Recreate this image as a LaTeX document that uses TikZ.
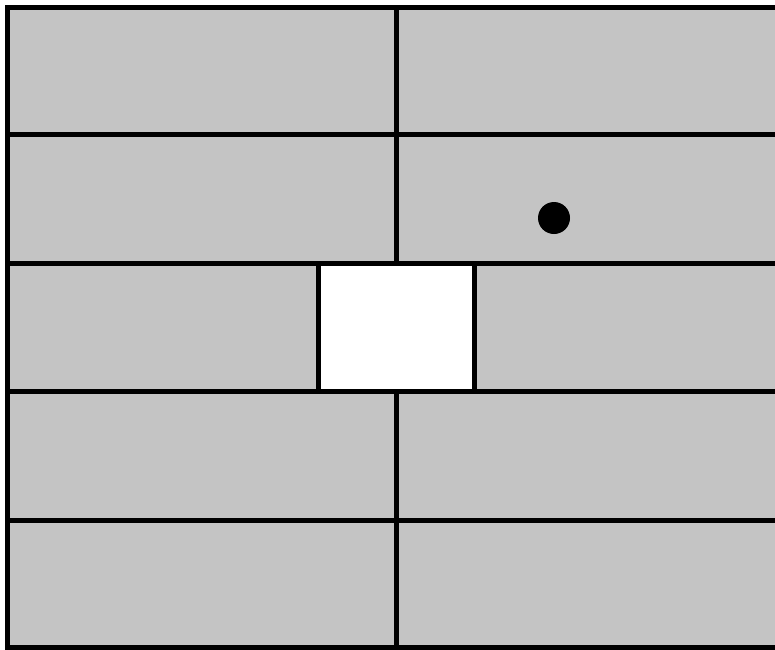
\documentclass[tikz,border=0pt]{standalone}
\definecolor{brick}{RGB}{196,196,196}
\begin{document}
\begin{tikzpicture}[x=1pt,y=-1pt]
	\useasboundingbox (0,0) rectangle (775,649);
	\fill[brick] (7.5,7.5) rectangle (790,647);
	\fill[white] (318,263) rectangle (474,391);
	
	% courses
	\draw[line width=5pt] (7.5,7.5) -- (790,7.5);
	\draw[line width=5pt] (7.5,134.5) -- (790,134.5);
	\draw[line width=5pt] (7.5,263) -- (790,263);
	\draw[line width=5pt] (7.5,391) -- (790,391);
	\draw[line width=5pt] (7.5,520) -- (790,520);
	\draw[line width=5pt] (7.5,647) -- (790,647);
	\draw[line width=5pt] (7.5,5) -- (7.5,650);
	
	% joints
	\draw[line width=5pt] (396,7.5) -- (396,263);
	\draw[line width=5pt] (396,391) -- (396,647);
	\draw[line width=5pt] (318,263) -- (318,391);
	\draw[line width=5pt] (474,263) -- (474,391);
	
	\fill (554,218) circle (16);
\end{tikzpicture}
\end{document}
